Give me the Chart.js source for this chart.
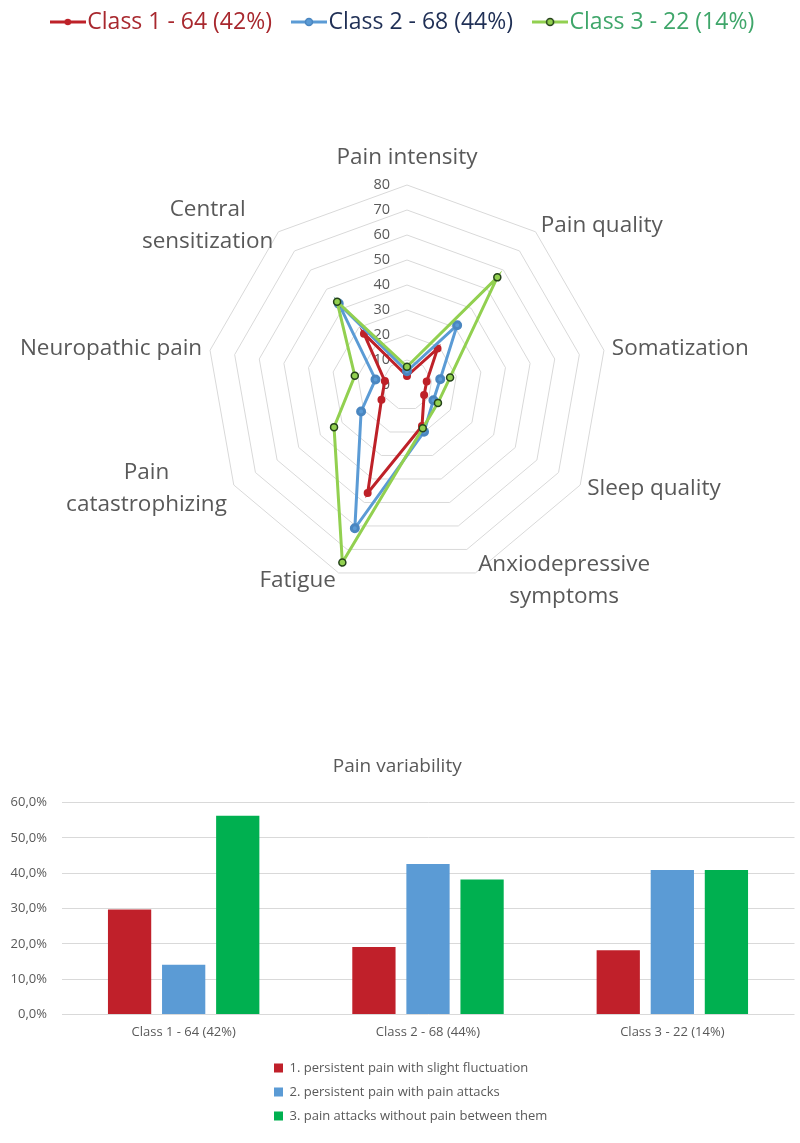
<!DOCTYPE html>
<html>
<head>
<meta charset="utf-8">
<script src="https://cdn.jsdelivr.net/npm/chart.js@4.4.1/dist/chart.umd.min.js"></script>
<style>
  html, body { margin: 0; padding: 0; background: #fff; }
  #radarBox { position: relative; width: 800px; height: 680px; }
  #barBox { position: relative; width: 800px; height: 463px; }
</style>
</head>
<body>
<div id="radarBox"><canvas id="radarChart"></canvas></div>
<div id="barBox"><canvas id="barChart"></canvas></div>
<script>
Chart.defaults.font.family = '"Open Sans", sans-serif';
Chart.defaults.color = '#595959';

// radar: profile of each class
const axes = [
    'Pain intensity',
    'Pain quality',
    'Somatization',
    'Sleep quality',
    ['Anxiodepressive', 'symptoms'],
    'Fatigue',
    ['Pain', 'catastrophizing'],
    'Neuropathic pain',
    ['Central', 'sensitization']
];
const classNames = ['Class 1 - 64 (42%)', 'Class 2 - 68 (44%)', 'Class 3 - 22 (14%)'];
const class1 = [3.6, 19, 8, 7.9, 17.5, 46, 11.8, 9, 26.8];
const class2 = [5.5, 31.2, 13.5, 12.2, 19.9, 61, 21.2, 12.8, 42.5];
const class3 = [7.3, 56.2, 17.5, 14.3, 18.4, 75.6, 33.7, 21.2, 43.5];

// bars: pain variability per class (%)
const variabilityTypes = [
    '1. persistent pain with slight fluctuation',
    '2. persistent pain with pain attacks',
    '3. pain attacks without pain between them'
];
const slightFluctuation = [29.7, 19.1, 18.2];
const withAttacks = [14.1, 42.6, 40.9];
const attacksOnly = [56.3, 38.2, 40.9];

const RED = '#BE2128';
const BLUE = '#5B9BD5';
const GREEN = '#92D050';

// little "line with dot" picture for the radar legend
function legendMarker(lineColor, fill, stroke, r) {
    const c = document.createElement('canvas');
    c.width = 36;
    c.height = 12;
    const g = c.getContext('2d');
    g.strokeStyle = lineColor;
    g.lineWidth = 3;
    g.beginPath();
    g.moveTo(0, 6);
    g.lineTo(36, 6);
    g.stroke();
    g.beginPath();
    g.arc(18, 6, r, 0, Math.PI * 2);
    g.fillStyle = fill;
    g.fill();
    g.lineWidth = 1.5;
    g.strokeStyle = stroke;
    g.stroke();
    return c;
}

const markers = [
    legendMarker(RED, RED, RED, 2.5),
    legendMarker(BLUE, BLUE, '#4A86C0', 3.5),
    legendMarker(GREEN, GREEN, '#24421A', 3.5)
];
const legendTextColors = ['#A8282E', '#1F2F55', '#3FA66A'];

// tick values and axis names, placed like Excel does
const radarText = {
    id: 'radarText',
    afterLayout(chart) {
        chart.legend.top = -18.5;
    },
    beforeDatasetsDraw(chart) {
        const scale = chart.scales.r;
        const ctx = chart.ctx;
        ctx.save();
        ctx.fillStyle = '#595959';
        ctx.textBaseline = 'middle';

        ctx.font = '14.5px "Open Sans"';
        ctx.textAlign = 'right';
        scale.ticks.forEach(t => {
            const p = scale.getPointPositionForValue(0, t.value);
            ctx.fillText(t.label, p.x - 17, p.y);
        });

        ctx.font = '22.5px "Open Sans"';
        ctx.textAlign = 'center';
        const lh = 32;
        chart.data.labels.forEach((label, i) => {
            const lines = Array.isArray(label) ? label : [label];
            const p = scale.getPointPosition(i, scale.drawingArea + 8);
            const deg = Math.round(scale.getIndexAngle(i) * 180 / Math.PI);
            const w = Math.max(...lines.map(l => ctx.measureText(l).width));
            let left;
            if (deg === 0 || deg === 180) {
                left = p.x - w / 2;
            } else if (deg < 180) {
                left = p.x;
            } else {
                left = p.x - w;
            }
            let top = p.y - lines.length * lh / 2;
            if (deg === 0) {
                top -= 19;
            }
            lines.forEach((l, k) => {
                ctx.fillText(l, left + w / 2, top + lh * (k + 0.5));
            });
        });
        ctx.restore();
    }
};

new Chart(document.getElementById('radarChart'), {
    type: 'radar',
    data: {
        labels: axes,
        datasets: [
            {
                label: classNames[0],
                data: class1,
                borderColor: RED,
                backgroundColor: RED,
                pointBackgroundColor: RED,
                pointBorderColor: RED,
                pointRadius: 2.5,
                borderWidth: 3,
                fill: false,
                order: 2
            },
            {
                label: classNames[1],
                data: class2,
                borderColor: BLUE,
                backgroundColor: BLUE,
                pointBackgroundColor: BLUE,
                pointBorderColor: '#4A86C0',
                pointRadius: 3.5,
                borderWidth: 3,
                fill: false,
                order: 1
            },
            {
                label: classNames[2],
                data: class3,
                borderColor: GREEN,
                backgroundColor: GREEN,
                pointBackgroundColor: GREEN,
                pointBorderColor: '#24421A',
                pointBorderWidth: 1.5,
                pointRadius: 3.5,
                borderWidth: 3,
                fill: false,
                order: 0
            }
        ]
    },
    options: {
        responsive: true,
        maintainAspectRatio: false,
        animation: false,
        layout: {
            padding: { top: 123, bottom: 95, left: 14, right: 0 }
        },
        plugins: {
            legend: {
                position: 'top',
                labels: {
                    usePointStyle: true,
                    pointStyleWidth: 16,
                    padding: 29,
                    font: { size: 23 },
                    generateLabels(chart) {
                        const items = Chart.defaults.plugins.legend.labels.generateLabels(chart);
                        items.sort((a, b) => a.datasetIndex - b.datasetIndex);
                        return items.map(it => Object.assign(it, {
                            pointStyle: markers[it.datasetIndex],
                            fontColor: legendTextColors[it.datasetIndex]
                        }));
                    }
                }
            },
            tooltip: { enabled: false }
        },
        scales: {
            r: {
                min: 0,
                max: 80,
                ticks: { stepSize: 10, display: false },
                grid: { color: '#D9D9D9', lineWidth: 1 },
                angleLines: { display: false },
                pointLabels: { display: false }
            }
        }
    },
    plugins: [radarText]
});

// put the bar legend in one narrow column under the axis
const barLegendColumn = {
    id: 'barLegendColumn',
    beforeInit(chart) {
        const lg = chart.legend;
        const fit = lg.fit;
        lg.fit = function () {
            fit.call(this);
            this.height = 34;
        };
    },
    afterLayout(chart) {
        const lg = chart.legend;
        lg.left = 263;
        lg.right = 560;
        lg.top = 370.5;
        lg.bottom = 463;
        lg.width = lg.right - lg.left;
        lg.height = lg.bottom - lg.top;
    }
};

new Chart(document.getElementById('barChart'), {
    type: 'bar',
    data: {
        labels: classNames,
        datasets: [
            { label: variabilityTypes[0], data: slightFluctuation, backgroundColor: '#C0202A' },
            { label: variabilityTypes[1], data: withAttacks, backgroundColor: '#5B9BD5' },
            { label: variabilityTypes[2], data: attacksOnly, backgroundColor: '#00B050' }
        ]
    },
    options: {
        responsive: true,
        maintainAspectRatio: false,
        animation: false,
        categoryPercentage: 0.664,
        barPercentage: 0.8,
        layout: {
            padding: { top: 0, bottom: 59, left: 0, right: 5.5 }
        },
        plugins: {
            title: {
                display: true,
                text: 'Pain variability',
                color: '#595959',
                font: { size: 19, weight: 'normal' },
                padding: { top: 75.6, bottom: 24.3 }
            },
            legend: {
                position: 'bottom',
                align: 'start',
                labels: {
                    boxWidth: 9,
                    boxHeight: 9,
                    padding: 11,
                    font: { size: 13 },
                    color: '#595959'
                }
            },
            tooltip: { enabled: false }
        },
        scales: {
            x: {
                grid: { display: false, drawTicks: false },
                border: { display: false },
                ticks: { padding: 10, font: { size: 13 }, color: '#595959' }
            },
            y: {
                min: 0,
                max: 60,
                afterFit(scale) {
                    scale.width = 61.5;
                },
                grid: { color: '#D9D9D9', drawTicks: false },
                border: { display: false },
                ticks: {
                    stepSize: 10,
                    padding: 14.5,
                    font: { size: 13 },
                    color: '#595959',
                    callback: v => v.toFixed(1).replace('.', ',') + '%'
                }
            }
        }
    },
    plugins: [barLegendColumn]
});
</script>
</body>
</html>
